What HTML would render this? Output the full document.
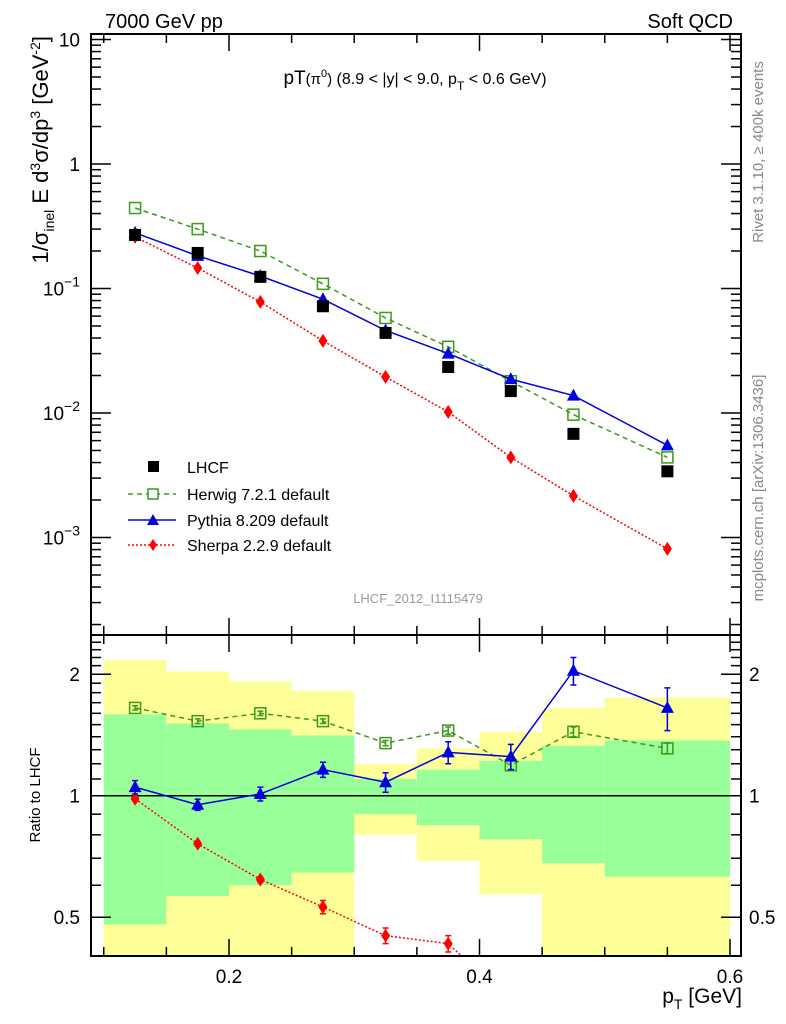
<!DOCTYPE html>
<html><head><meta charset="utf-8">
<style>
html,body{margin:0;padding:0;background:#fff;overflow:hidden;width:786px;height:1024px;}
svg{display:block;font-family:"Liberation Sans",sans-serif;}
</style></head>
<body>
<svg id="chart" width="786" height="1024" viewBox="0 0 786 1024" xmlns="http://www.w3.org/2000/svg">
<g id="ratioBands"></g>
<g id="mainMarks"></g>
<g id="ratioMarks"></g>
<g id="axes"></g>
<text x="105" y="28" font-size="20">7000 GeV pp</text>
<text x="733" y="28" font-size="20" text-anchor="end">Soft QCD</text>
<text x="415" y="84" font-size="19" text-anchor="middle">pT<tspan font-size="15">(π<tspan dy="-7" font-size="11">0</tspan><tspan dy="7">)</tspan></tspan><tspan font-size="16"> (8.9 &lt; |y| &lt; 9.0, p<tspan dy="6" font-size="12">T</tspan><tspan dy="-6"> &lt; 0.6 GeV)</tspan></tspan></text>
<text x="418" y="603" font-size="13" fill="#999" text-anchor="middle">LHCF_2012_I1115479</text>
<text transform="translate(763,152) rotate(-90)" font-size="15" fill="#888" text-anchor="middle">Rivet 3.1.10, ≥ 400k events</text>
<text transform="translate(763,488) rotate(-90)" font-size="15" fill="#888" text-anchor="middle">mcplots.cern.ch [arXiv:1306.3436]</text>
<text transform="translate(48,36) rotate(-90)" font-size="22" text-anchor="end">1/σ<tspan dy="6" font-size="14">inel</tspan><tspan dy="-6"> E d</tspan><tspan dy="-8" font-size="14">3</tspan><tspan dy="8">σ/dp</tspan><tspan dy="-8" font-size="14">3</tspan><tspan dy="8"> [GeV</tspan><tspan dy="-8" font-size="14">-2</tspan><tspan dy="8">]</tspan></text>
<text transform="translate(40,795) rotate(-90)" font-size="15" text-anchor="middle">Ratio to LHCF</text>
<text x="742" y="1003" font-size="21" text-anchor="end">p<tspan dy="6" font-size="14">T</tspan><tspan dy="-6"> [GeV]</tspan></text>
<g>
<rect x="148" y="461" width="11" height="11" fill="#000"/>
<text x="187" y="473" font-size="16">LHCF</text>
<line x1="128" y1="494" x2="176" y2="494" stroke="#3a9a1a" stroke-width="1.5" stroke-dasharray="5,4"/>
<rect x="148" y="489" width="10" height="10" fill="#fff" stroke="#3a9a1a" stroke-width="1.5"/>
<text x="187" y="500" font-size="16">Herwig 7.2.1 default</text>
<line x1="128" y1="520" x2="176" y2="520" stroke="#0000dd" stroke-width="1.5"/>
<path d="M153,514 L159,525 L147,525 Z" fill="#0000dd"/>
<text x="187" y="526" font-size="16">Pythia 8.209 default</text>
<line x1="128" y1="545" x2="176" y2="545" stroke="#ff0000" stroke-width="1.5" stroke-dasharray="2,2"/>
<path d="M153,539 L157,545 L153,551 L149,545 Z" fill="#ff0000"/>
<text x="187" y="551" font-size="16">Sherpa 2.2.9 default</text>
</g>
</svg>
<script>
const xCenters=[0.125,0.175,0.225,0.275,0.325,0.375,0.425,0.475,0.55];
const binEdges=[0.1,0.15,0.2,0.25,0.3,0.35,0.4,0.45,0.5,0.6];
const lhcfVals=[0.269,0.193,0.124,0.072,0.044,0.0234,0.015,0.0068,0.0034];
const herwigVals=[0.443,0.30,0.20,0.109,0.058,0.034,0.018,0.0097,0.0044];
const pythiaVals=[0.28,0.183,0.126,0.082,0.046,0.030,0.0187,0.0138,0.0055];
const sherpaVals=[0.26,0.146,0.078,0.038,0.0195,0.0102,0.0044,0.00216,0.00081];
const herwigRatio=[1.65,1.53,1.60,1.53,1.35,1.45,1.19,1.44,1.31];
const pythiaRatio=[1.05,0.95,1.01,1.16,1.08,1.28,1.25,2.04,1.65];
const sherpaRatio=[0.983,0.76,0.62,0.53,0.45,0.43,0.31,0.22,0.17];
const herwigRatioErr=[0.02,0.02,0.02,0.02,0.02,0.03,0.03,0.04,0.04];
const pythiaRatioErr=[0.04,0.03,0.04,0.05,0.06,0.08,0.09,0.16,0.2];
const sherpaRatioErr=[0.01,0.01,0.01,0.02,0.02,0.02,0.02,0.02,0.02];
const greenHi=[1.59,1.51,1.46,1.41,1.10,1.16,1.22,1.33,1.37];
const greenLo=[0.48,0.564,0.60,0.645,0.90,0.845,0.78,0.68,0.63];
const yellowHi=[2.17,2.03,1.92,1.82,1.20,1.31,1.44,1.65,1.75];
const yellowLo=[0.3,0.3,0.3,0.3,0.80,0.69,0.57,0.3,0.3];
const mainTickVals=[10,1,0.1,0.01,0.001];
const mainTickLabels=["10","1","10^-1","10^-2","10^-3"];
const ratioTickVals=[2,1,0.5];
const ratioTickLabels=["2","1","0.5"];
const xTickVals=[0.2,0.4,0.6];
const xTickLabels=["0.2","0.4","0.6"];

const NS="http://www.w3.org/2000/svg";
const L=91,R=741,T=34,MB=635,RB=956;
const X0=0.1,XPX0=103.75,XSC=1252.5;
function sx(v){return XPX0+(v-X0)*XSC;}
function syMain(v){return 164-Math.log10(v)*124.5;}
function syRatio(v){return 795.7-Math.log2(v)*121.5;}
function mk(tag,attrs,parent){const e=document.createElementNS(NS,tag);for(const k in attrs)e.setAttribute(k,attrs[k]);parent.appendChild(e);return e;}
const chart=document.getElementById('chart');
const axes=document.getElementById('axes');
const bands=document.getElementById('ratioBands');
const mainG=document.getElementById('mainMarks');
const ratioG=document.getElementById('ratioMarks');

const defs=mk('defs',{},chart);
const cpM=mk('clipPath',{id:'cpM'},defs);mk('rect',{x:L,y:T,width:R-L,height:MB-T},cpM);
const cpR=mk('clipPath',{id:'cpR'},defs);mk('rect',{x:L,y:MB,width:R-L,height:RB-MB},cpR);
bands.setAttribute('clip-path','url(#cpR)');
ratioG.setAttribute('clip-path','url(#cpR)');
mainG.setAttribute('clip-path','url(#cpM)');

for(let i=0;i<xCenters.length;i++){
  const x1=sx(binEdges[i]),x2=sx(binEdges[i+1]);
  const y=mk('rect',{x:x1,y:syRatio(yellowHi[i]),width:x2-x1,height:syRatio(yellowLo[i])-syRatio(yellowHi[i]),fill:'#ffff99'},bands);
  
  
  const g=mk('rect',{x:x1,y:syRatio(greenHi[i]),width:x2-x1,height:syRatio(greenLo[i])-syRatio(greenHi[i]),fill:'#99ff99'},bands);
  
  
}
const one=mk('line',{x1:L,x2:R,y1:syRatio(1),y2:syRatio(1),stroke:'#000','stroke-width':1.5},ratioG);



function marker(type,x,y,color,parent,name){
  let e;
  if(type==='sq') e=mk('rect',{x:x-6,y:y-6,width:12,height:12,fill:'#000'},parent);
  else if(type==='osq') e=mk('rect',{x:x-5.5,y:y-5.5,width:11,height:11,fill:'none',stroke:color,'stroke-width':1.5},parent);
  else if(type==='tri') e=mk('path',{d:`M${x},${y-7} L${x+6.5},${y+5} L${x-6.5},${y+5} Z`,fill:color},parent);
  else e=mk('path',{d:`M${x},${y-7} L${x+4.5},${y} L${x},${y+7} L${x-4.5},${y} Z`,fill:color},parent);
  
  
}
function series(vals,fy,color,dash,type,parent,name,errs){
  const pts=vals.map((v,i)=>sx(xCenters[i])+','+fy(v)).join(' ');
  const pl=mk('polyline',{points:pts,fill:'none',stroke:color,'stroke-width':1.5,'stroke-dasharray':dash},parent);
  
  
  vals.forEach((v,i)=>{
    const x=sx(xCenters[i]);
    if(errs){
      const e=mk('path',{d:`M${x},${fy(v+errs[i])} L${x},${fy(v-errs[i])} M${x-3},${fy(v+errs[i])} L${x+3},${fy(v+errs[i])} M${x-3},${fy(v-errs[i])} L${x+3},${fy(v-errs[i])}`,stroke:color,'stroke-width':1.5,fill:'none'},parent);
      
      
    }
    marker(type,x,fy(v),color,parent,name+'-point');
  });
}
series(herwigVals,syMain,'#3a9a1a','5,4','osq',mainG,'herwig');
series(sherpaVals,syMain,'#ff0000','2,2','dia',mainG,'sherpa');
series(pythiaVals,syMain,'#0000dd','','tri',mainG,'pythia');
lhcfVals.forEach((v,i)=>marker('sq',sx(xCenters[i]),syMain(v),'#000',mainG,'lhcf-point'));
series(herwigRatio,syRatio,'#3a9a1a','5,4','osq',ratioG,'herwig-ratio',herwigRatioErr);
series(sherpaRatio,syRatio,'#ff0000','2,2','dia',ratioG,'sherpa-ratio',sherpaRatioErr);
series(pythiaRatio,syRatio,'#0000dd','','tri',ratioG,'pythia-ratio',pythiaRatioErr);

[[T,MB],[MB,RB]].forEach(([a,b],k)=>{
  const f=mk('rect',{x:L,y:a,width:R-L,height:b-a,fill:'none',stroke:'#000','stroke-width':2},axes);
  
  
});
for(let v=0.1;v<=0.601;v+=0.05){
  const major=Math.abs(v*10-Math.round(v*10))<1e-6&&Math.round(v*10)%2===0;
  const len=major?17:9,x=sx(v);
  [[T,1],[MB,-1],[MB,1],[RB,-1]].forEach(([y0,d])=>mk('line',{x1:x,x2:x,y1:y0,y2:y0+d*len,stroke:'#000','stroke-width':1.5},axes));
}
xTickVals.forEach((v,i)=>{
  const t=mk('text',{x:sx(v),y:983,'font-size':19,'text-anchor':'middle'},axes);
  t.textContent=xTickLabels[i];
  
  
});
for(let d=-4;d<=1;d++){
  for(let m=1;m<10;m++){
    const v=m*Math.pow(10,d),y=syMain(v);
    if(y<T||y>MB)continue;
    const len=m===1?20:10;
    mk('line',{x1:L,x2:L+len,y1:y,y2:y,stroke:'#000','stroke-width':1.5},axes);
    mk('line',{x1:R,x2:R-len,y1:y,y2:y,stroke:'#000','stroke-width':1.5},axes);
  }
}
mainTickVals.forEach((v,i)=>{
  const y=syMain(v);const s=mainTickLabels[i];
  const t=mk('text',{x:80,y:y+7,'font-size':19,'text-anchor':'end'},axes);
  if(s.indexOf('^')>=0){const p=s.split('^');t.textContent=p[0];const ts=mk('tspan',{dy:-9,'font-size':14},t);ts.textContent=p[1].replace('-','−');}
  else t.textContent=s;
  
  
});
for(let v=0.4;v<=2.51;v+=0.1){
  const y=syRatio(v);if(y<MB||y>RB)continue;
  const major=[0.5,1,2].some(m=>Math.abs(m-v)<1e-6);
  const len=major?20:10;
  mk('line',{x1:L,x2:L+len,y1:y,y2:y,stroke:'#000','stroke-width':1.5},axes);
  mk('line',{x1:R,x2:R-len,y1:y,y2:y,stroke:'#000','stroke-width':1.5},axes);
}
ratioTickVals.forEach((v,i)=>{
  const y=syRatio(v);
  const a=mk('text',{x:80,y:y+7,'font-size':19,'text-anchor':'end'},axes);
  a.textContent=ratioTickLabels[i];
  
  
  const b=mk('text',{x:749,y:y+7,'font-size':19},axes);
  b.textContent=ratioTickLabels[i];
  
  
});
</script>
</body></html>
